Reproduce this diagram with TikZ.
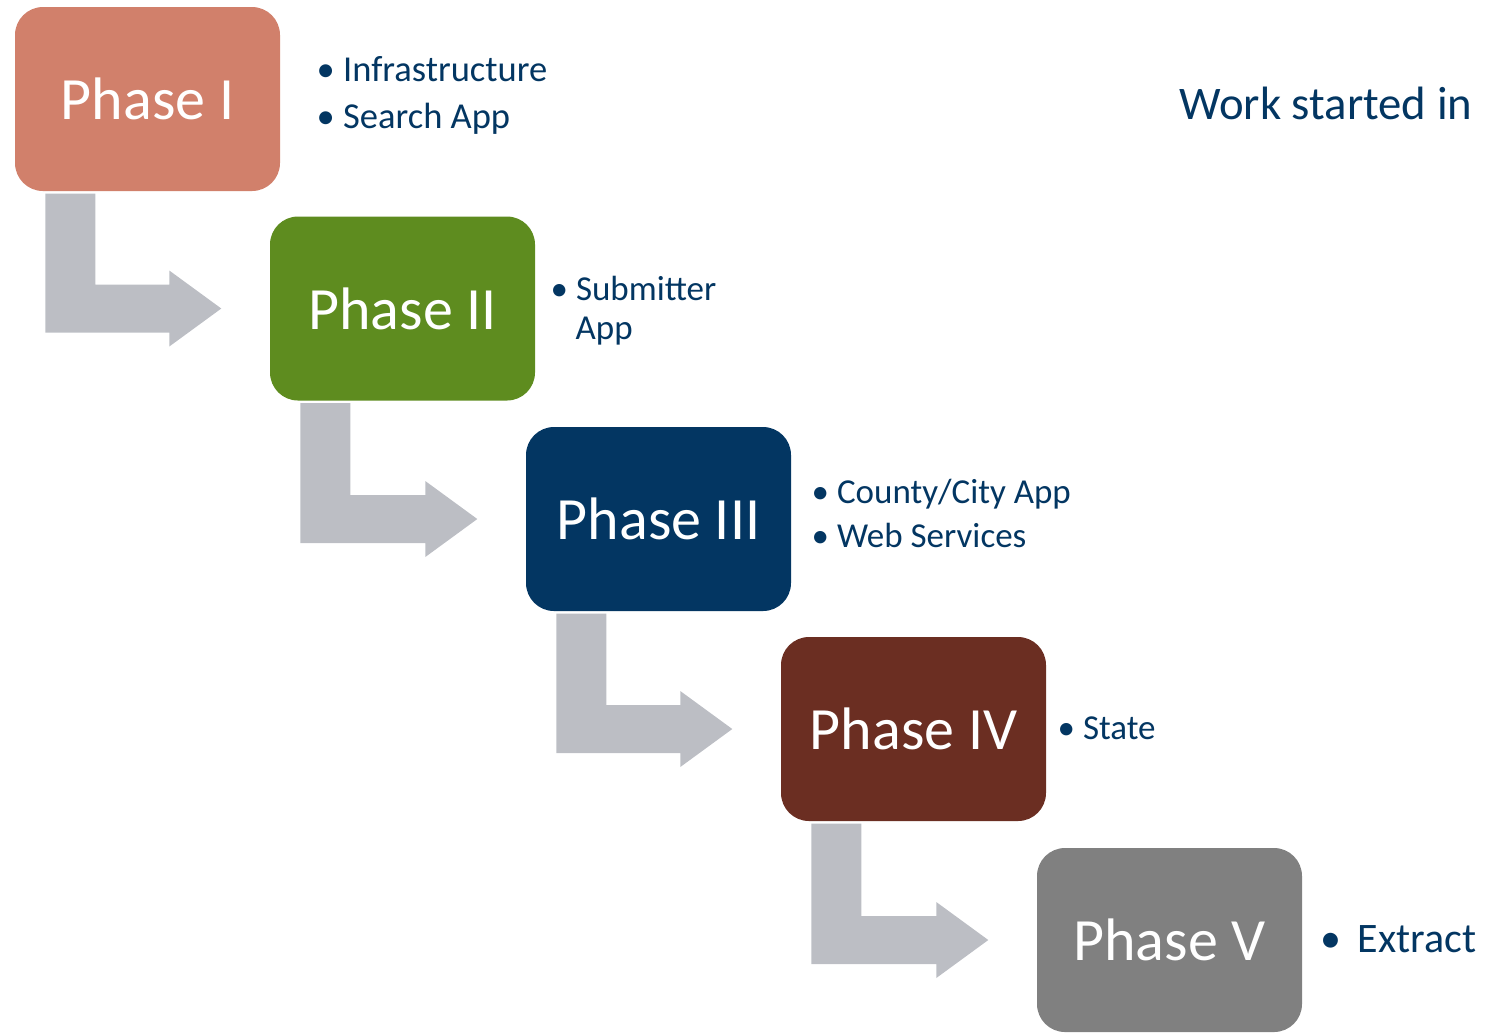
\documentclass[tikz,border=0pt]{standalone}
\usepackage{fontspec}
\setmainfont{Carlito}
\definecolor{phaseone}{HTML}{D1806B}
\definecolor{phasetwo}{HTML}{5E8C1F}
\definecolor{phasethree}{HTML}{033662}
\definecolor{phasefour}{HTML}{6B2E22}
\definecolor{phasefive}{HTML}{808080}
\definecolor{arrowgray}{HTML}{BCBEC4}
\definecolor{textblue}{HTML}{033662}

\begin{document}
\begin{tikzpicture}[
  phase/.style={rectangle, minimum height=18.4mm, minimum width=26.5mm, inner sep=0pt, rounded corners=2.8mm, text=white, font=\fontsize{17.07}{20}\selectfont},
  items/.style={anchor=base west, inner sep=0pt, text=textblue, font=\fontsize{9.96}{12}\selectfont},
  itemsbig/.style={items, font=\fontsize{10.39}{12}\selectfont},
  bentarrow/.style={fill=arrowgray}
]
\useasboundingbox (0,0) rectangle (14.86,-10.32);

\node[phase, fill=phaseone] (ph1) at (1.475,-0.99) {Phase I};
\node[phase, fill=phasetwo] (ph2) at (4.025,-3.085) {Phase II};
\node[phase, fill=phasethree] (ph3) at (6.585,-5.19) {Phase III};
\node[phase, fill=phasefour] (ph4) at (9.135,-7.29) {Phase IV};
\node[phase, fill=phasefive] (ph5) at (11.695,-9.40) {Phase V};

% bent arrows between the phases
\foreach \a/\b in {ph1/ph2, ph2/ph3, ph3/ph4, ph4/ph5} {
  \fill[bentarrow] ([xshift=3.1mm,yshift=-0.2mm]\a.south west) -- ++(5mm,0)
    |- ([xshift=-10mm,yshift=2.4mm]\b.west) -- ++(0,1.4mm)
    -- ([xshift=-4.8mm]\b.west) -- ++(-5.2mm,-3.8mm) -- ++(0,1.4mm)
    -| ([xshift=3.1mm,yshift=-0.2mm]\a.south west) -- cycle;
}

\node[itemsbig] (it1a) at (3.16,-0.81) {• Infrastructure};
\node[itemsbig] (it1b) at (3.16,-1.28) {• Search App};
\node[items] (it2a) at (5.50,-3.00) {• Submitter};
\node[items] (it2b) at (5.75,-3.39) {App};
\node[items] (it3a) at (8.11,-5.03) {• County/City App};
\node[items] (it3b) at (8.11,-5.47) {• Web Services};
\node[items] (it4) at (10.57,-7.39) {• State};
\node[items, font=\fontsize{11.95}{14}\selectfont] (it5) at (13.20,-9.52) {•\hspace{0.38em}Extract};

\node[anchor=base east, inner sep=0pt, text=textblue, font=\fontsize{13.3}{16}\selectfont] (work) at (14.73,-1.19) {Work started in};
\end{tikzpicture}
\end{document}
